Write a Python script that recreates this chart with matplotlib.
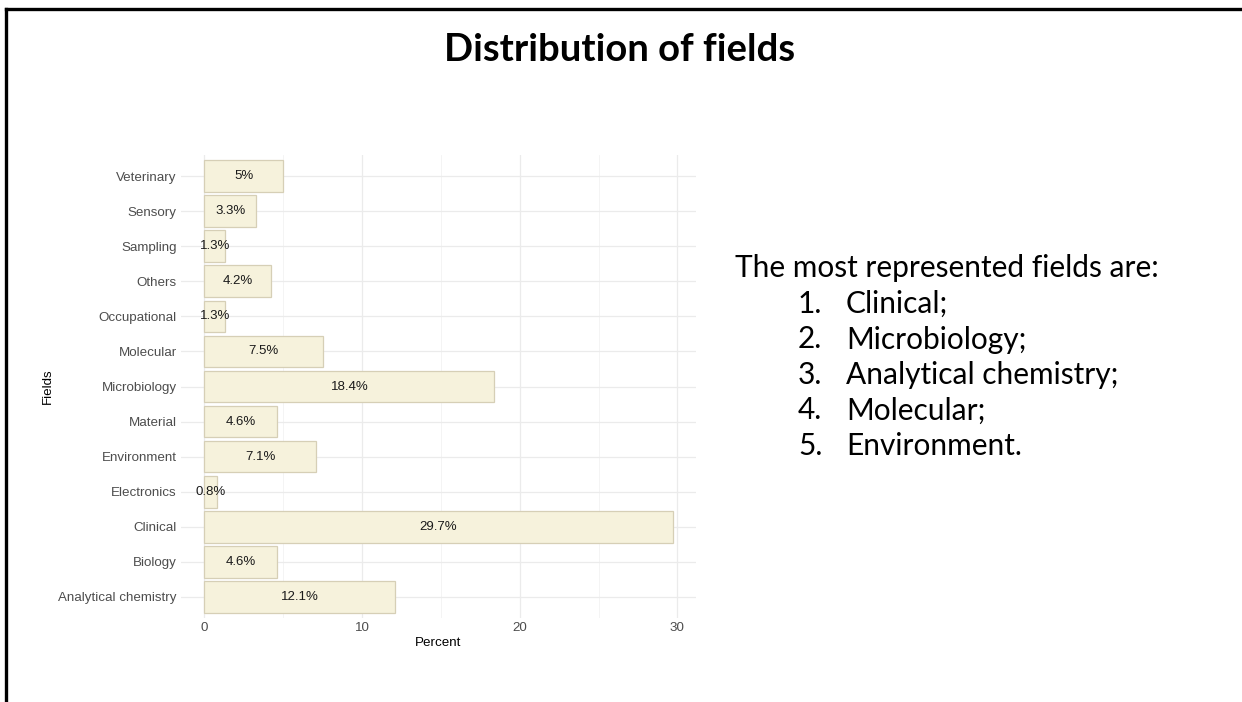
import matplotlib
matplotlib.use("Agg")
import matplotlib.pyplot as plt
from matplotlib.lines import Line2D

# Share of publications per field (percent)
fields = ["Analytical chemistry", "Biology", "Clinical", "Electronics", "Environment",
          "Material", "Microbiology", "Molecular", "Occupational", "Others",
          "Sampling", "Sensory", "Veterinary"]
percent = [12.1, 4.6, 29.7, 0.8, 7.1, 4.6, 18.4, 7.5, 1.3, 4.2, 1.3, 3.3, 5.0]
x_ticks = [0, 10, 20, 30]

title = "Distribution of fields"
summary_head = "The most represented fields are:"
summary_items = ["Clinical;", "Microbiology;", "Analytical chemistry;", "Molecular;", "Environment."]

W, H = 1242, 702
fig = plt.figure(figsize=(W / 100, H / 100), dpi=100)
fig.patch.set_facecolor("white")

# slide frame (top and left edges)
fig.add_artist(Line2D([6 / W, 1.0], [1 - 9 / H, 1 - 9 / H], color="black", lw=2.4,
                      transform=fig.transFigure))
fig.add_artist(Line2D([6 / W, 6 / W], [0.0, 1 - 9 / H], color="black", lw=2.4,
                      transform=fig.transFigure))

fig.text(620 / W, 1 - 50 / H, title, ha="center", va="center", fontsize=27.5,
         fontweight="bold", family="Lato")

ax = fig.add_axes([181 / W, 1 - 618 / H, (696 - 181) / W, (618 - 155) / H])
ypos = list(range(len(fields)))
xmax = max(percent)
ax.set_xlim(-0.05 * xmax, xmax * 1.05)
ax.set_ylim(-0.6, len(fields) - 0.4)

# grid in the style of a minimal theme
for t in [5, 15, 25]:
    ax.axvline(t, color="#F3F3F3", lw=0.6, zorder=0)
for t in x_ticks:
    ax.axvline(t, color="#EBEBEB", lw=0.9, zorder=0)
for y in ypos:
    ax.axhline(y, color="#EBEBEB", lw=0.9, zorder=0)

ax.barh(ypos, percent, height=0.9, color="#F6F2DC", edgecolor="#D6CFB6", linewidth=0.9, zorder=2)
for y, v in zip(ypos, percent):
    ax.text(v / 2, y, f"{v:g}%", ha="center", va="center", fontsize=9.5,
            family="Liberation Sans", color="#1A1A1A", zorder=3)

ax.set_yticks(ypos)
ax.set_yticklabels(fields, family="Liberation Sans", fontsize=9.6, color="#4D4D4D")
ax.set_xticks(x_ticks)
ax.set_xticklabels([str(t) for t in x_ticks], family="Liberation Sans", fontsize=9.6, color="#4D4D4D")
ax.tick_params(length=0, pad=3)
for s in ax.spines.values():
    s.set_visible(False)
ax.set_xlabel("Percent", family="Liberation Sans", fontsize=9.6, labelpad=2)
ax.set_ylabel("Fields", family="Liberation Sans", fontsize=9.6, labelpad=3)

# summary text on the right
fs = 21.5
fig.text(735 / W, 1 - 268 / H, summary_head, ha="left", va="center", fontsize=fs, family="Lato")
for i, item in enumerate(summary_items):
    yy = 1 - (304 + i * 35.5) / H
    fig.text(798 / W, yy, f"{i + 1}.", ha="left", va="center", fontsize=fs, family="Lato")
    fig.text(846 / W, yy, item, ha="left", va="center", fontsize=fs, family="Lato")

fig.savefig("out.png", dpi=100, facecolor="white")
